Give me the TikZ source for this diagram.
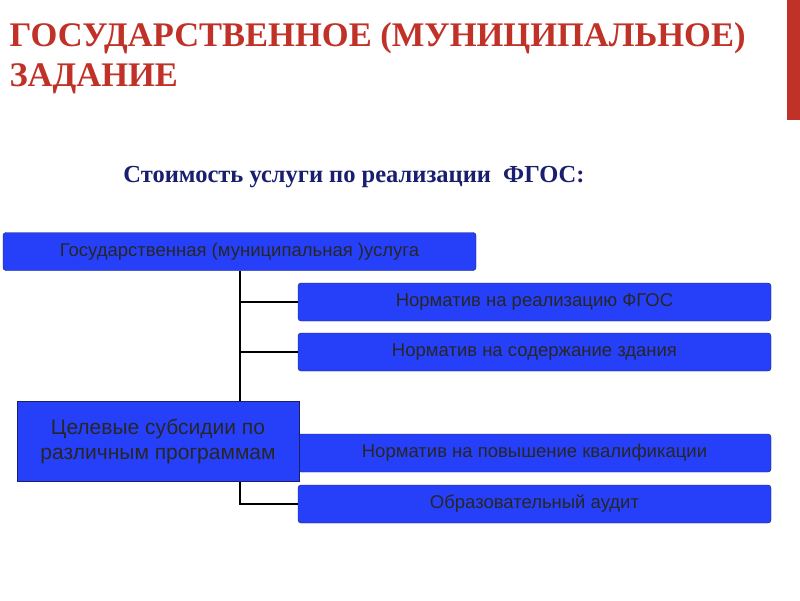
\documentclass[tikz,border=0pt]{standalone}
\usepackage{fontspec}
\setmainfont{Liberation Sans}
\newfontfamily\titlefont{Liberation Serif}
\usetikzlibrary{positioning}
\definecolor{boxblue}{RGB}{38,64,250}
\definecolor{titlered}{RGB}{192,50,40}
\definecolor{subnavy}{RGB}{25,30,110}
\tikzset{
	item/.style={draw=subnavy, fill=boxblue, rounded corners=3pt, minimum height=38pt, font=\fontsize{18.5}{21}\selectfont, text=black!85},
	wide/.style={item, minimum width=473pt},
	link/.style={line width=1.2pt}
}
\begin{document}
\begin{tikzpicture}[x=1pt,y=-1pt]
	\useasboundingbox (0,0) rectangle (800,600);
	\fill[white] (0,0) rectangle (800,600);
	\fill[titlered] (787,0) rectangle (800,120);
	% title
	\node[anchor=west, text=titlered, font=\titlefont\bfseries\fontsize{34.5}{40}\selectfont, align=left] (title) at (6,58) {ГОСУДАРСТВЕННОЕ (МУНИЦИПАЛЬНОЕ)\\ЗАДАНИЕ};
	\node[text=subnavy, font=\titlefont\bfseries\fontsize{24.5}{28}\selectfont] (cost) at (354,177) {Стоимость услуги по реализации \ ФГОС:};
	% boxes
	\node[wide] (serv) at (239.5,251.5) {Государственная (муниципальная )услуга};
	\node[wide] (norm1) at (534.5,302) {Норматив на реализацию ФГОС};
	\node[wide] (norm2) at (534.5,352) {Норматив на содержание здания};
	\node[wide] (norm3) at (534.5,453) {Норматив на повышение квалификации};
	\node[wide] (audit) at (534.5,504) {Образовательный аудит};
	% connectors
	\coordinate (trunk) at (240,504);
	\draw[link] (serv.south -| trunk) -- (trunk) -- (audit.west);
	\draw[link] (trunk |- norm1) -- (norm1.west);
	\draw[link] (trunk |- norm2) -- (norm2.west);
	\draw[link] (trunk |- norm3) -- (norm3.west);
	\node[item, rounded corners=0pt, minimum width=282pt, minimum height=80pt, align=center, font=\fontsize{21}{25}\selectfont] (subs) at (158,441) {Целевые субсидии по\\различным программам};
\end{tikzpicture}
\end{document}
